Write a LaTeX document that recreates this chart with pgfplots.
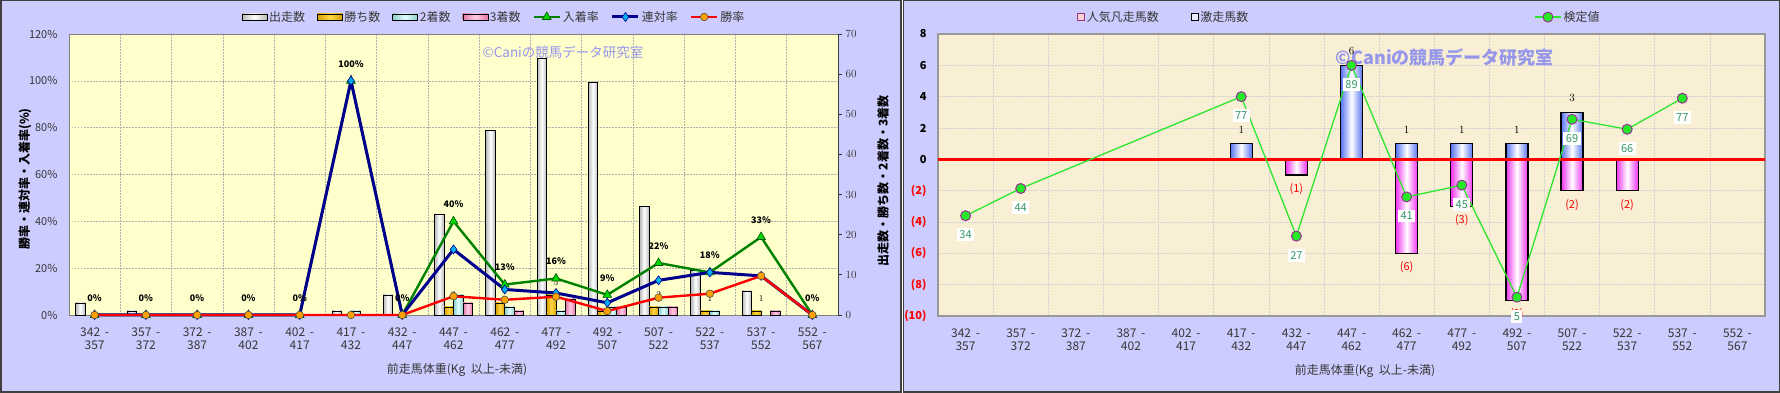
\documentclass[border=0pt]{standalone}
\usepackage{pgfplots}
\pgfplotsset{compat=1.18}
\usepackage{fontspec}
\setmainfont{Noto Sans CJK JP}
\definecolor{lav}{RGB}{204,204,255}
\definecolor{plotyel}{RGB}{255,255,204}
\definecolor{parch}{RGB}{249,239,212}
\definecolor{gridg}{RGB}{175,175,175}
\definecolor{tickc}{RGB}{55,55,55}
\definecolor{gold}{RGB}{215,160,0}
\definecolor{goldl}{RGB}{255,215,70}
\definecolor{cyb}{RGB}{140,205,205}
\definecolor{cyl}{RGB}{225,255,255}
\definecolor{pkb}{RGB}{225,120,165}
\definecolor{pkl}{RGB}{255,205,230}
\definecolor{navyb}{RGB}{0,0,140}
\definecolor{grn}{RGB}{0,130,0}
\definecolor{grnm}{RGB}{0,215,0}
\definecolor{orng}{RGB}{255,160,0}
\definecolor{lgrn}{RGB}{45,230,45}
\definecolor{labg}{RGB}{50,150,100}
\definecolor{wm}{RGB}{150,150,235}
\definecolor{blb}{RGB}{85,115,245}
\definecolor{mag}{RGB}{240,50,240}
\definecolor{purp}{RGB}{150,50,150}
\newcommand\tf{\fontsize{11}{12.7}\selectfont}
\newcommand\xf{\fontsize{12}{12.7}\selectfont}
\newcommand\jf{\fontsize{12}{14}\selectfont}
\pgfplotsset{
  barleg/.style={legend image code/.code={\draw[##1] (0pt,-3pt) rectangle (25pt,3pt);}},
  lineleg/.style={legend image code/.code={\draw[mark repeat=2,mark phase=2,##1] plot coordinates {(0pt,0pt)(13pt,0pt)(26pt,0pt)};}},
  sqleg/.style={legend image code/.code={\draw[##1] (0pt,-3.5pt) rectangle (7pt,3.5pt);}},
  xcats/.style={xmin=-0.5, xmax=14.5, xtick={0,...,14},
    xticklabels={{342 \,-\\357},{357 \,-\\372},{372 \,-\\387},{387 \,-\\402},{402 \,-\\417},{417 \,-\\432},{432 \,-\\447},{447 \,-\\462},{462 \,-\\477},{477 \,-\\492},{492 \,-\\507},{507 \,-\\522},{522 \,-\\537},{537 \,-\\552},{552 \,-\\567}},
    xticklabel style={align=center, font=\xf, text=tickc, yshift=-9.5pt},
    xtick style={draw=none}, minor tick length=0pt,
    minor xtick={0.5,1.5,...,13.5}, xminorgrids},
  wbar/.style={ybar, bar width=9.5pt, bar shift=-14.25pt, draw=black, line width=0.7pt, left color=gray!55, right color=gray!55, middle color=white},
  gbar/.style={ybar, bar width=9.5pt, bar shift=-4.75pt, draw=black, line width=0.7pt, left color=gold, right color=gold, middle color=goldl,
    nodes near coords, every node near coord/.append style={font=\fontsize{9}{10}\selectfont, text=black, anchor=center, yshift=12pt}},
  cbar/.style={ybar, bar width=9.5pt, bar shift=4.75pt, draw=black, line width=0.7pt, left color=cyb, right color=cyb, middle color=cyl},
  pbar/.style={ybar, bar width=9.5pt, bar shift=14.25pt, draw=black, line width=0.7pt, left color=pkb, right color=pkb, middle color=pkl},
  mbar/.style={ybar, bar width=22pt, bar shift=0pt, forget plot, draw=black, line width=1.2pt, left color=mag, right color=mag, middle color=white,
    point meta=explicit symbolic, nodes near coords,
    every node near coord/.append style={font=\tf, text=red, anchor=center, yshift=-14pt}},
  bbar/.style={ybar, bar width=22pt, bar shift=0pt, forget plot, draw=black, line width=1.2pt, left color=blb, right color=blb, middle color=white,
    nodes near coords, every node near coord/.append style={font=\tf, text=black, anchor=center, yshift=14pt}},
}
\begin{document}
\begin{tikzpicture}
\useasboundingbox (0pt,0pt) rectangle (1780pt,393pt);
\draw[fill=lav, draw=black!75, line width=1.5pt] (0.75pt,0.75pt) rectangle (901pt,392.25pt);
\draw[fill=lav, draw=black!75, line width=1.5pt] (903.5pt,0.75pt) rectangle (1779.25pt,392.25pt);

% ---------- left panel: frame, grid ----------
\begin{axis}[scale only axis, width=769pt, height=281pt, at={(69pt,78pt)}, anchor=south west, xcats,
  ymin=0, ymax=120, ytick={0,20,...,120}, yticklabels={0\%,20\%,40\%,60\%,80\%,100\%,120\%},
  ymajorgrids, ytick style={draw=none},
  yticklabel style={font=\tf, text=tickc, xshift=-8pt},
  grid style={gridg, dash pattern=on 1.5pt off 1.5pt, line width=0.6pt},
  minor grid style={gridg, dash pattern=on 1.5pt off 1.5pt, line width=0.6pt},
  axis background/.style={fill=plotyel},
  axis line style={draw=gray, line width=0.8pt}]
  \node[text=wm, font=\fontsize{13.5}{14}\selectfont] at (axis description cs:0.6424,0.936) {©Caniの競馬データ研究室};
\end{axis}

% ---------- left panel: counts (right axis) ----------
\begin{axis}[scale only axis, width=769pt, height=281pt, at={(69pt,78pt)}, anchor=south west,
  xmin=-0.5, xmax=14.5, ymin=0, ymax=70, axis x line=none, axis y line*=right,
  ytick={0,10,...,70}, yticklabel style={font=\tf, text=tickc},
  ytick style={draw=gray!40!black, line width=0.8pt}, tick align=outside, major tick length=4pt,
  axis line style={draw=gray!50!black, line width=1pt}, clip=false]
% 出走数
\addplot[wbar] coordinates {(0,3)};
\addplot[wbar] coordinates {(1,1)};
\addplot[wbar] coordinates {(5,1)};
\addplot[wbar] coordinates {(6,5)};
\addplot[wbar] coordinates {(7,25)};
\addplot[wbar] coordinates {(8,46)};
\addplot[wbar] coordinates {(9,64)};
\addplot[wbar] coordinates {(10,58)};
\addplot[wbar] coordinates {(11,27)};
\addplot[wbar] coordinates {(12,11)};
\addplot[wbar] coordinates {(13,6)};
% 勝ち数
\addplot[gbar] coordinates {(7,2)};
\addplot[gbar] coordinates {(8,3)};
\addplot[gbar] coordinates {(9,5)};
\addplot[gbar] coordinates {(10,1)};
\addplot[gbar] coordinates {(11,2)};
\addplot[gbar] coordinates {(12,1)};
\addplot[gbar] coordinates {(13,1)};
% 2着数
\addplot[cbar] coordinates {(5,1)};
\addplot[cbar] coordinates {(7,5)};
\addplot[cbar] coordinates {(8,2)};
\addplot[cbar] coordinates {(9,1)};
\addplot[cbar] coordinates {(10,2)};
\addplot[cbar] coordinates {(11,2)};
\addplot[cbar] coordinates {(12,1)};
% 3着数
\addplot[pbar] coordinates {(7,3)};
\addplot[pbar] coordinates {(8,1)};
\addplot[pbar] coordinates {(9,4)};
\addplot[pbar] coordinates {(10,2)};
\addplot[pbar] coordinates {(11,2)};
\addplot[pbar] coordinates {(13,1)};
\end{axis}

% ---------- left panel: rates ----------
\begin{axis}[scale only axis, width=769pt, height=281pt, at={(69pt,78pt)}, anchor=south west,
  xmin=-0.5, xmax=14.5, ymin=0, ymax=120, axis lines=none, clip=false,
  lineleg, legend columns=7,
  legend style={draw=none, fill=none, at={(0.5527,1.0605)}, anchor=center, font=\jf, text=tickc,
    /tikz/every even column/.append style={column sep=10pt}}]
\addlegendimage{barleg, draw=black, left color=gray!55, right color=gray!55, middle color=white}
\addlegendentry{出走数}
\addlegendimage{barleg, draw=black, left color=gold, right color=gold, middle color=goldl}
\addlegendentry{勝ち数}
\addlegendimage{barleg, draw=black, left color=cyb, right color=cyb, middle color=cyl}
\addlegendentry{2着数}
\addlegendimage{barleg, draw=black, left color=pkb, right color=pkb, middle color=pkl}
\addlegendentry{3着数}
\addplot[grn, line width=2.4pt, mark=triangle*, mark size=5pt, mark options={fill=grnm, draw=grn!60!black, line width=0.6pt},
  point meta=explicit symbolic, nodes near coords,
  every node near coord/.append style={font=\fontsize{9}{10}\selectfont\bfseries, text=black, anchor=center, yshift=17pt}]
  coordinates {(0,0)[0\%] (1,0)[0\%] (2,0)[0\%] (3,0)[0\%] (4,0)[0\%] (5,100)[100\%] (6,0)[0\%] (7,40.0)[40\%] (8,13.0)[13\%] (9,15.6)[16\%] (10,8.6)[9\%] (11,22.2)[22\%] (12,18.2)[18\%] (13,33.3)[33\%] (14,0)[0\%]};
\addlegendentry{入着率}
\addplot[navyb, line width=3pt, mark=diamond*, mark size=4.5pt, mark options={fill=cyan, draw=navyb, line width=0.6pt}]
  coordinates {(0,0)(1,0)(2,0)(3,0)(4,0)(5,100)(6,0)(7,28.0)(8,10.9)(9,9.4)(10,5.2)(11,14.8)(12,18.2)(13,16.7)(14,0)};
\addlegendentry{連対率}
\addplot[red, line width=2.4pt, mark=*, mark size=3.8pt, mark options={fill=orng, draw=black!70, line width=0.6pt}]
  coordinates {(0,0)(1,0)(2,0)(3,0)(4,0)(5,0)(6,0)(7,8.0)(8,6.5)(9,7.8)(10,1.7)(11,7.4)(12,9.1)(13,16.7)(14,0)};
\addlegendentry{勝率}
\end{axis}

\node[rotate=90, font=\jf\bfseries] at (25pt,214pt) {勝率・連対率・入着率(\%)};
\node[rotate=90, font=\jf\bfseries] at (883pt,212pt) {出走数・勝ち数・2着数・3着数};
\node[font=\jf, text=tickc] at (457pt,23pt) {前走馬体重(Kg\ \ 以上-未満)};

% ---------- right panel ----------
\begin{axis}[scale only axis, width=827pt, height=282pt, at={(938pt,77pt)}, anchor=south west, xcats,
  ymin=-10, ymax=8, ytick={-10,-8,...,8},
  yticklabels={\textcolor{red}{(10)},\textcolor{red}{(8)},\textcolor{red}{(6)},\textcolor{red}{(4)},\textcolor{red}{(2)},0,2,4,6,8},
  yticklabel style={font=\tf\bfseries, text=black, xshift=-8pt},
  ymajorgrids, ytick style={draw=none},
  grid style={gray!35, dash pattern=on 1.5pt off 1.5pt, line width=0.6pt},
  minor grid style={gray!35, dash pattern=on 1.5pt off 1.5pt, line width=0.6pt},
  axis background/.style={fill=parch},
  axis line style={draw=gray!80, line width=1.2pt},
  clip=false, lineleg, legend columns=3,
  legend style={draw=none, fill=none, at={(0.4855,1.060)}, anchor=center, font=\jf, text=tickc}]
\node[text=wm, font=\fontsize{18}{20}\selectfont\bfseries] at (axis description cs:0.613,0.918) {©Caniの競馬データ研究室};
\addlegendimage{sqleg, draw=purp, fill=pink!70}
\addlegendentry{人気凡走馬数\hspace*{30pt}}
\addlegendimage{sqleg, draw=black, fill=blue!8}
\addlegendentry{激走馬数\hspace*{284pt}}
% 人気凡走馬数
\addplot[mbar] coordinates {(6,-1)[(1)]};
\addplot[mbar] coordinates {(8,-6)[(6)]};
\addplot[mbar] coordinates {(9,-3)[(3)]};
\addplot[mbar] coordinates {(10,-9)[(9)]};
\addplot[mbar] coordinates {(11,-2)[(2)]};
\addplot[mbar] coordinates {(12,-2)[(2)]};
% 激走馬数
\addplot[bbar] coordinates {(5,1)};
\addplot[bbar] coordinates {(7,6)};
\addplot[bbar] coordinates {(8,1)};
\addplot[bbar] coordinates {(9,1)};
\addplot[bbar] coordinates {(10,1)};
\addplot[bbar] coordinates {(11,3)};
\addplot[red, line width=2.5pt, forget plot] coordinates {(-0.5,0)(14.5,0)};
\addplot[lgrn, line width=1.3pt, mark=*, mark size=5pt, mark options={fill=lgrn!85!green, draw=purp, line width=1pt},
  point meta=explicit symbolic, nodes near coords,
  every node near coord/.append style={font=\tf, text=labg, fill=white, inner sep=2.5pt, anchor=center, yshift=-19pt}]
  coordinates {(0,-3.6)[34] (1,-1.86)[44] (5,4.0)[77] (6,-4.9)[27] (7,6.0)[89] (8,-2.4)[41] (9,-1.65)[45] (10,-8.8)[5] (11,2.56)[69] (12,1.92)[66] (13,3.9)[77]};
\addlegendentry{検定値}
\end{axis}
\node[font=\jf, text=tickc] at (1365pt,22pt) {前走馬体重(Kg\ \ 以上-未満)};
\end{tikzpicture}
\end{document}
